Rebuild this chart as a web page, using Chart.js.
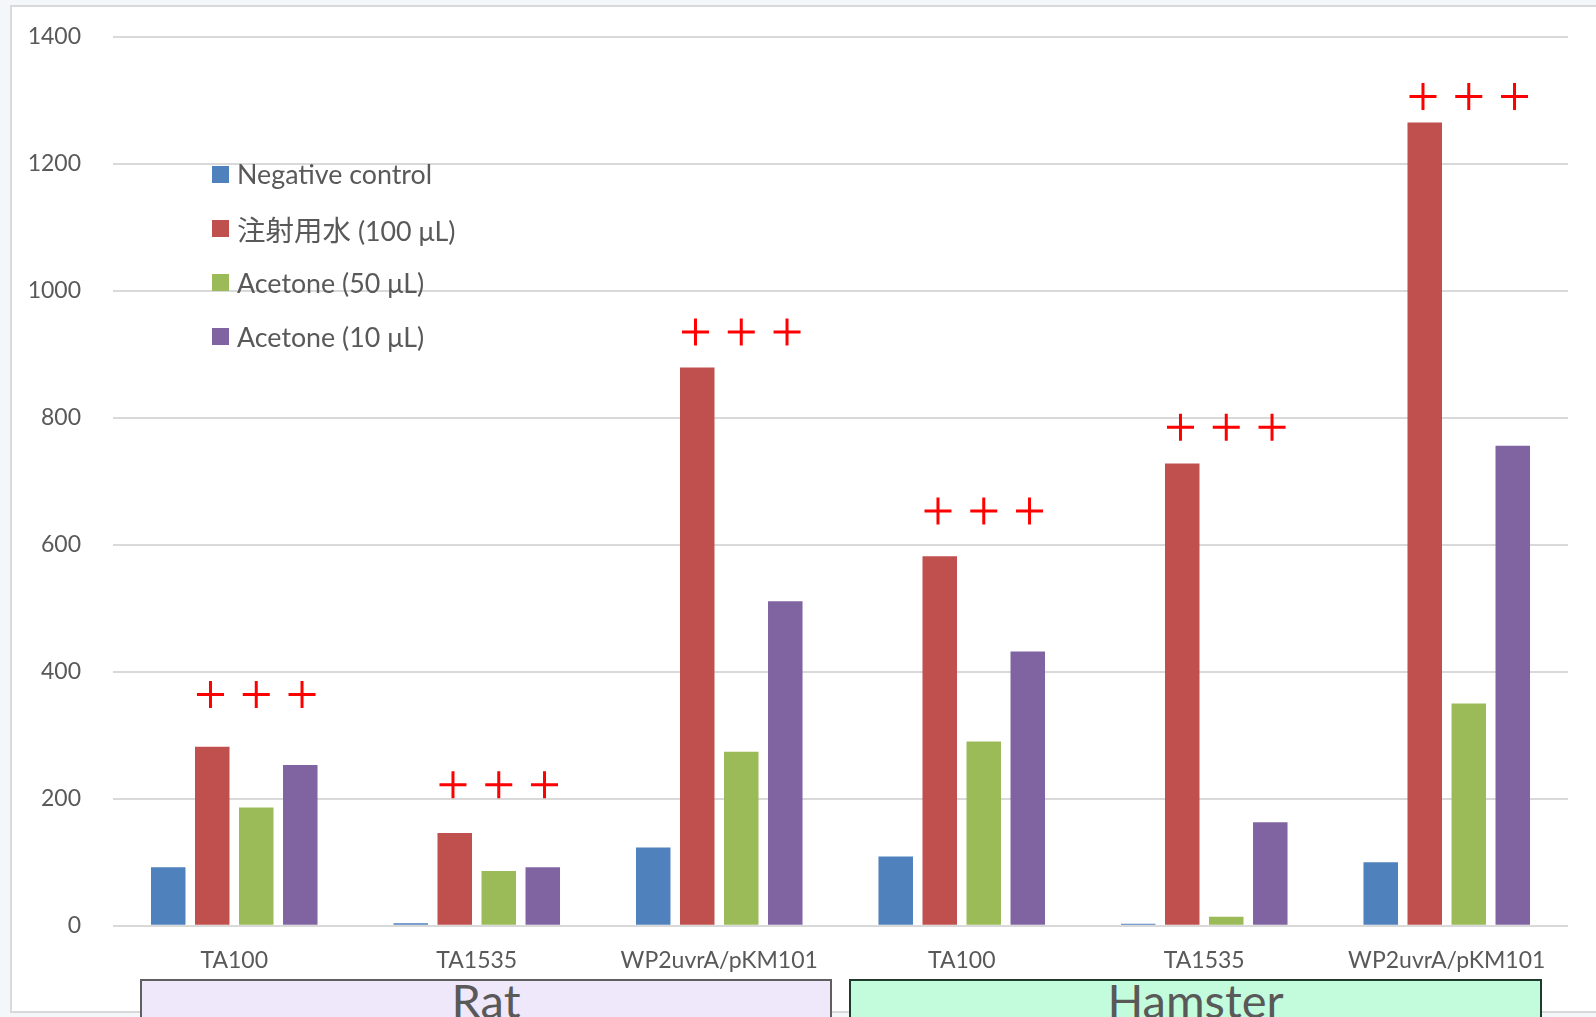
<!DOCTYPE html>
<html>
<head>
<meta charset="utf-8">
<title>Ames test revertant colonies</title>
<script src="https://cdn.jsdelivr.net/npm/chart.js@4.4.1/dist/chart.umd.min.js"></script>
<style>
  html, body { margin: 0; padding: 0; width: 1596px; height: 1017px; overflow: hidden; background: #F4F7FA; }
  #frame { position: absolute; left: 10px; top: 5px; width: 1600px; height: 1008px; box-sizing: border-box;
           background: #FFFFFF; border: 2px solid #D9D9D9; }
  #chart { position: absolute; left: 0; top: 0; }
  #legend { position: absolute; left: 212px; top: 0; font-family: Lato, "Noto Sans CJK JP", sans-serif;
            font-size: 26.8px; color: #595959; }
  #legend .row { position: absolute; left: 0; height: 32px; display: flex; align-items: center; white-space: nowrap; }
  #legend .sw { width: 17px; height: 17px; margin-right: 8px; flex: none; }
  #legend .cjk { font-family: "Noto Sans CJK JP", sans-serif; font-size: 28.5px; }
  .group { position: absolute; top: 979px; height: 60px; box-sizing: border-box; overflow: hidden;
           text-align: center; font-family: Lato, sans-serif; font-size: 47px; line-height: 1; color: #595959; }
  .group span { display: block; margin-top: -4px; }
  #rat { left: 140px; width: 692px; background: #EFE8FB; border: 2px solid #5F5F5F; }
  #hamster { left: 849px; width: 693px; background: #C3FCDC; border: 2px solid #1E3B2E; }
</style>
</head>
<body>
<div id="frame"></div>
<canvas id="chart" width="1596" height="1017"></canvas>
<div id="legend"></div>
<div class="group" id="rat"><span></span></div>
<div class="group" id="hamster"><span></span></div>
<script>
// Bacterial strains tested (Rat: first three, Hamster: last three)
const categories = ['TA100', 'TA1535', 'WP2uvrA/pKM101', 'TA100', 'TA1535', 'WP2uvrA/pKM101'];
const groupNames = ['Rat', 'Hamster'];

// Revertant colonies per plate
const negativeControl = [92, 4, 123, 109, 3, 100];
const waterForInjection = [282, 146, 879, 582, 728, 1265];
const acetone50 = [186, 86, 274, 290, 14, 350];
const acetone10 = [253, 92, 511, 432, 163, 756];

// Height (axis units) of the "+ + +" positive-result marks in each strain group
const plusLevels = [364, 222, 935, 653, 785, 1306];

// Y axis ticks
const yTicks = [0, 200, 400, 600, 800, 1000, 1200, 1400];

const seriesLabels = ['Negative control', '注射用水 (100 μL)', 'Acetone (50 μL)', 'Acetone (10 μL)'];
const seriesColors = ['#4F81BD', '#C0504D', '#9BBB59', '#8064A2'];
const seriesData = [negativeControl, waterForInjection, acetone50, acetone10];

const textColor = '#595959';

// Red "+" marks: a row of three, centred over the Acetone (50 μL) bar of each strain
const plusMarks = {
  id: 'plusMarks',
  afterDatasetsDraw(chart) {
    const { ctx, scales: { y } } = chart;
    const arm = 13.5;
    ctx.save();
    ctx.strokeStyle = '#FF0000';
    ctx.lineWidth = 3;
    ctx.lineCap = 'butt';
    plusLevels.forEach((level, i) => {
      const py = y.getPixelForValue(level);
      const mid = chart.getDatasetMeta(2).data[i].x;
      const step = (mid - chart.getDatasetMeta(1).data[i].x) * 1.04;
      for (let k = -1; k <= 1; k++) {
        const px = mid + k * step;
        ctx.beginPath();
        ctx.moveTo(px - arm, py);
        ctx.lineTo(px + arm, py);
        ctx.moveTo(px, py - arm);
        ctx.lineTo(px, py + arm);
        ctx.stroke();
      }
    });
    ctx.restore();
  }
};

const chart = new Chart(document.getElementById('chart'), {
  type: 'bar',
  data: {
    labels: categories,
    datasets: seriesData.map((values, k) => ({
      label: seriesLabels[k],
      data: values,
      backgroundColor: seriesColors[k],
      borderWidth: 0
    }))
  },
  options: {
    responsive: false,
    animation: false,
    layout: { padding: { top: 36.7, right: 28, bottom: 0, left: 0 } },
    datasets: { bar: { categoryPercentage: 0.726, barPercentage: 0.784 } },
    plugins: { legend: { display: false }, tooltip: { enabled: false } },
    scales: {
      x: {
        grid: { display: false, drawTicks: false },
        border: { display: false },
        ticks: { color: textColor, font: { family: 'Lato', size: 23 }, padding: 21, maxRotation: 0, autoSkip: false },
        afterFit(scale) { scale.height = 91.3; }
      },
      y: {
        min: yTicks[0],
        max: yTicks[yTicks.length - 1],
        afterBuildTicks(scale) { scale.ticks = yTicks.map(v => ({ value: v })); },
        ticks: {
          color: textColor,
          font: { family: 'Lato', size: 23 },
          padding: 32,
          callback: (value) => String(value)
        },
        grid: { color: '#D9D9D9', lineWidth: 2, drawTicks: false },
        border: { display: false },
        afterFit(scale) {
          scale.width = 113;
          scale.paddingTop = 14;
          scale.paddingBottom = 14;
        }
      }
    }
  },
  plugins: [plusMarks]
});

// Legend inside the plot area
const legend = document.getElementById('legend');
chart.data.datasets.forEach((ds, k) => {
  const row = document.createElement('div');
  row.className = 'row';
  row.style.top = (158 + k * 54.3) + 'px';
  const sw = document.createElement('span');
  sw.className = 'sw';
  sw.style.background = ds.backgroundColor;
  row.appendChild(sw);
  const label = document.createElement('span');
  const m = ds.label.match(/^([\u3000-\u9fff]+)(.*)$/);
  if (m) {
    const cjk = document.createElement('span');
    cjk.className = 'cjk';
    cjk.textContent = m[1];
    label.appendChild(cjk);
    label.appendChild(document.createTextNode(m[2]));
  } else {
    label.textContent = ds.label;
  }
  row.appendChild(label);
  legend.appendChild(row);
});

// Species captions under the strain labels
document.querySelector('#rat span').textContent = groupNames[0];
document.querySelector('#hamster span').textContent = groupNames[1];
</script>
</body>
</html>
